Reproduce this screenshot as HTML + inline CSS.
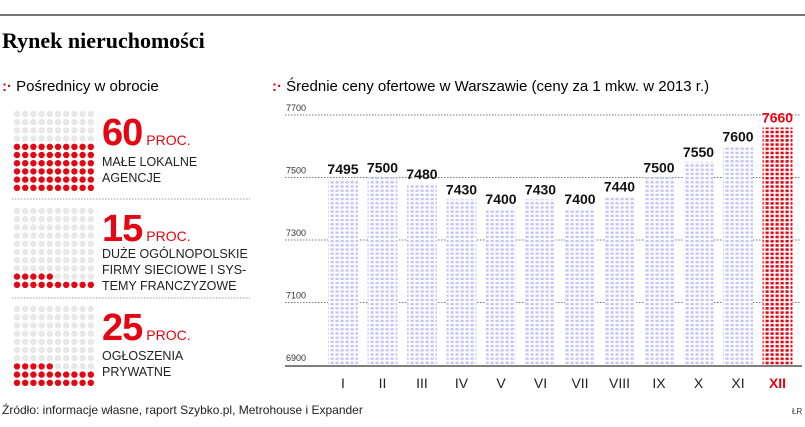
<!DOCTYPE html>
<html><head><meta charset="utf-8"><style>
body{margin:0;width:805px;height:427px;background:#fff;font-family:"Liberation Sans","DejaVu Sans",sans-serif;overflow:hidden;position:relative}
.a{position:absolute;white-space:nowrap}
.big{color:#e30613;font-weight:bold;font-size:38px;letter-spacing:-1px}
.proc{color:#e30613;font-size:14px;margin-left:4px}
.lab{font-size:12.5px;color:#222;line-height:16px}
</style></head><body>
<div class="a" style="left:0;top:14px;width:805px;height:2px;background:#777"></div>
<div class="a" style="left:2px;top:28px;font-family:'Liberation Serif',serif;font-weight:bold;font-size:22px">Rynek nieruchomości</div>
<div class="a" style="left:2px;top:78px;font-size:15px"><span style="color:#e30613;font-weight:bold">:·</span> Pośrednicy w obrocie</div>
<div class="a" style="left:272px;top:78px;font-size:15px"><span style="color:#e30613;font-weight:bold">:·</span> Średnie ceny ofertowe w Warszawie (ceny za 1 mkw. w 2013 r.)</div>
<svg class="a" style="left:0;top:0" width="805" height="427">
<defs>
<pattern id="pb" width="5" height="4.2" patternUnits="userSpaceOnUse"><rect width="5" height="4.2" fill="#fff"/><rect x="0.5" y="0.5" width="3.2" height="2.4" fill="#c4c4f6"/></pattern>
<pattern id="pr" width="5" height="4.2" patternUnits="userSpaceOnUse"><rect width="5" height="4.2" fill="#fff"/><rect x="0.5" y="0.5" width="3.2" height="2.6" fill="#e30613"/></pattern>
</defs>
<g id="dots"></g>
<line x1="12" y1="199" x2="250" y2="199" stroke="#999" stroke-dasharray="1.5,1.5"/>
<line x1="12" y1="298" x2="250" y2="298" stroke="#999" stroke-dasharray="1.5,1.5"/>
<g id="chart"></g>
<text x="2" y="414" font-size="12" fill="#222">Źródło: informacje własne, raport Szybko.pl, Metrohouse i Expander</text>
<text x="792" y="414" font-size="8" fill="#333">ŁR</text>
</svg>
<div class="a" style="left:102px;top:112px"><span class="big">60</span><span class="proc">PROC.</span></div>
<div class="a lab" style="left:102px;top:154px">MAŁE LOKALNE<br>AGENCJE</div>
<div class="a" style="left:102px;top:208px"><span class="big">15</span><span class="proc">PROC.</span></div>
<div class="a lab" style="left:102px;top:246px">DUŻE OGÓLNOPOLSKIE<br>FIRMY SIECIOWE I SYS-<br>TEMY FRANCZYZOWE</div>
<div class="a" style="left:102px;top:307px"><span class="big">25</span><span class="proc">PROC.</span></div>
<div class="a lab" style="left:102px;top:348px">OGŁOSZENIA<br>PRYWATNE</div>
<script>
const shares=[60,15,25];
const months=["I","II","III","IV","V","VI","VII","VIII","IX","X","XI","XII"];
const prices=[7495,7500,7480,7430,7400,7430,7400,7440,7500,7550,7600,7660];
const ticks=[6900,7100,7300,7500,7700];
const NS="http://www.w3.org/2000/svg";
function mk(t,a,p){const e=document.createElementNS(NS,t);for(const k in a)e.setAttribute(k,a[k]);p.appendChild(e);return e;}
const dg=document.getElementById('dots');
const tops=[114,211,309];
shares.forEach((s,g)=>{
 for(let r=0;r<10;r++)for(let c=0;c<10;c++){
  const idx=(9-r)*10+c;
  const red=idx<s;
  const d=mk('circle',{cx:17+c*8.2,cy:tops[g]+r*8.2,r:3.2,fill:red?'#e30613':'#e8e8e8'},dg);
  
  
 }
});
const ch=document.getElementById('chart');
const y=v=>365-(v-6900)*0.3125;
const x=i=>328+i*39.5;
ticks.forEach(t=>{
 if(t>6900){const l=mk('line',{x1:285,x2:800,y1:y(t),y2:y(t),stroke:'#777','stroke-dasharray':'1.5,1.5'},ch);
 
 }
 const tx=mk('text',{x:286,y:y(t)-4,'font-size':9,fill:'#333'},ch);tx.textContent=t;
 
 
});
prices.forEach((p,i)=>{
 const last=i===prices.length-1;
 const b=mk('rect',{x:x(i),y:y(p),width:30,height:365-y(p),fill:last?'url(#pr)':'url(#pb)'},ch);
 
 
 const v=mk('text',{x:x(i)+15,y:y(p)-5,'font-size':14,'font-weight':'bold','text-anchor':'middle',fill:last?'#e30613':'#111'},ch);v.textContent=p;
 
 
 const m=mk('text',{x:x(i)+15,y:388,'font-size':14,'text-anchor':'middle',fill:last?'#e30613':'#222','font-weight':last?'bold':'normal'},ch);m.textContent=months[i];
 
 
});
const ax=mk('line',{x1:285,x2:802,y1:366,y2:366,stroke:'#555','stroke-width':1.5},ch);


</script>
</body></html>
